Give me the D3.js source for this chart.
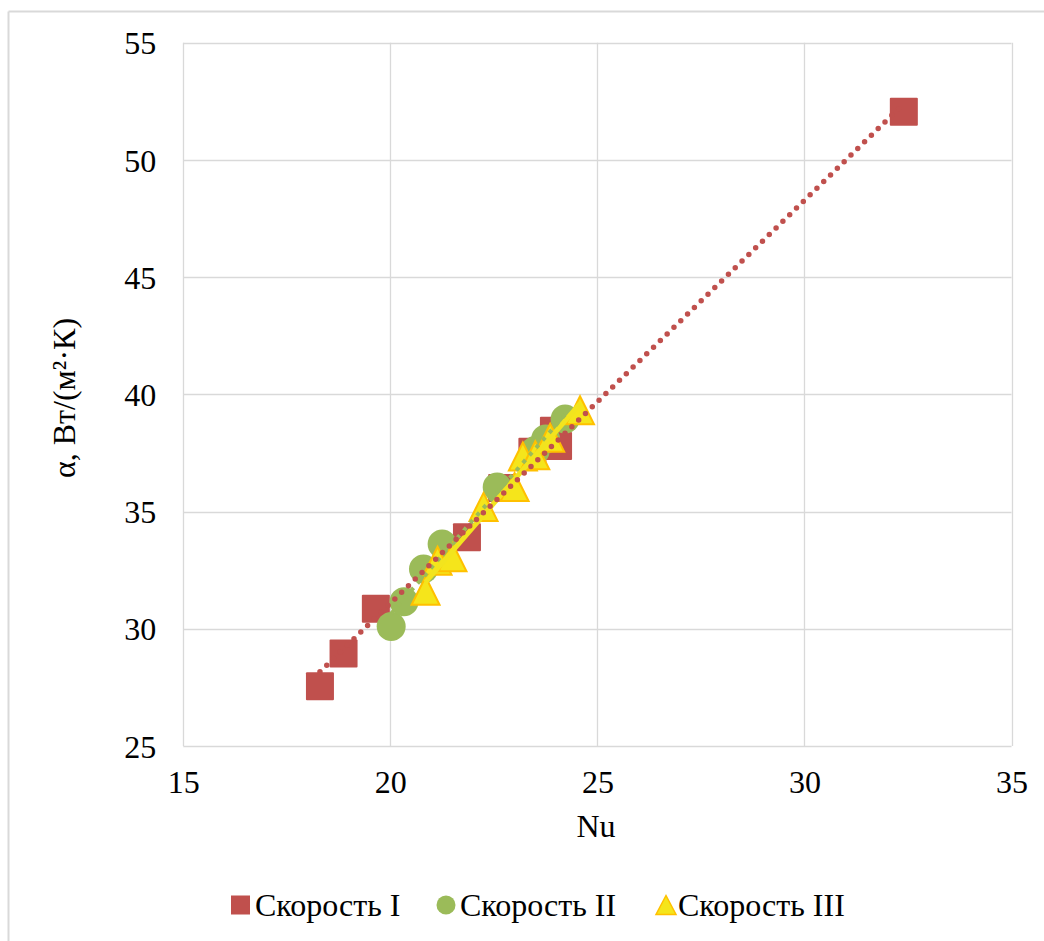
<!DOCTYPE html>
<html>
<head>
<meta charset="utf-8">
<script src="https://cdn.jsdelivr.net/npm/d3@7"></script>
<style>
  html, body { margin: 0; padding: 0; background: #fff; }
</style>
</head>
<body>
<svg id="chart" width="1044" height="941"></svg>
<script>
// ---- data ----
const seriesNames = ["Скорость I", "Скорость II", "Скорость III"];
const nuI     = [18.3, 18.87, 19.65, 21.85, 22.7, 23.43, 23.95, 24.05, 32.4];
const alphaI  = [27.55, 28.95, 30.85, 33.9, 36.0, 37.55, 38.45, 37.8, 52.05];
const nuII    = [20.02, 20.33, 20.8, 21.25, 22.58, 23.5, 23.75, 24.22];
const alphaII = [30.1, 31.15, 32.55, 33.62, 36.05, 37.6, 38.1, 38.95];
const nuIII    = [20.85, 21.14, 21.5, 22.25, 23.0, 23.2, 23.5, 23.86, 24.58];
const alphaIII = [31.62, 32.9, 33.05, 35.2, 36.05, 37.35, 37.4, 38.15, 39.32];
const xTicks = [15, 20, 25, 30, 35];
const yTicks = [25, 30, 35, 40, 45, 50, 55];
const xTitle = "Nu";
const yTitle = "α, Вт/(м²·К)";

// ---- layout ----
const FONT = "Liberation Serif";
const svg = d3.select("#chart");
const x = d3.scaleLinear().domain([15, 35]).range([183.3, 1011.5]);
const y = d3.scaleLinear().domain([25, 55]).range([746, 42.7]);
const grid = "#d9d9d9";
const red = "#C0504D", green = "#9BBB59", yellowFill = "#F5E51B", yellowStroke = "#FFC000";

// outer frame (top and left edges visible)
svg.append("line").attr("x1", 8.5).attr("x2", 1044).attr("y1", 11.5).attr("y2", 11.5).attr("stroke", grid).attr("stroke-width", 2);
svg.append("line").attr("x1", 8.5).attr("x2", 8.5).attr("y1", 11.5).attr("y2", 941).attr("stroke", grid).attr("stroke-width", 2);

// gridlines
svg.append("g").selectAll("line").data(xTicks).join("line")
  .attr("x1", d => Math.round(x(d)) + 0.5).attr("x2", d => Math.round(x(d)) + 0.5)
  .attr("y1", y(25)).attr("y2", y(55)).attr("stroke", grid).attr("stroke-width", 1.3);
svg.append("g").selectAll("line").data(yTicks).join("line")
  .attr("y1", d => Math.round(y(d)) + 0.5).attr("y2", d => Math.round(y(d)) + 0.5)
  .attr("x1", x(15)).attr("x2", x(35)).attr("stroke", grid).attr("stroke-width", 1.3);

// axes via d3 axis generators (labels only)
const xAxis = svg.append("g").attr("transform", `translate(0,${y(25)})`)
  .call(d3.axisBottom(x).tickValues(xTicks).tickSize(0).tickPadding(0));
xAxis.attr("font-family", FONT).attr("font-size", 32);
xAxis.select(".domain").remove();
xAxis.selectAll("text").attr("y", 36).attr("dy", "0.35em").attr("fill", "#000");

const yAxis = svg.append("g").attr("transform", `translate(${x(15)},0)`)
  .call(d3.axisLeft(y).tickValues(yTicks).tickSize(0).tickPadding(0));
yAxis.attr("font-family", FONT).attr("font-size", 32);
yAxis.select(".domain").remove();
yAxis.selectAll("text").attr("x", -27).attr("dy", "0.35em").attr("fill", "#000");

// axis titles
svg.append("text").attr("x", 596).attr("y", 837).attr("text-anchor", "middle")
  .attr("font-family", FONT).attr("font-size", 32).text(xTitle);
svg.append("text").attr("transform", "translate(75,398) rotate(-90)").attr("text-anchor", "middle")
  .attr("font-family", FONT).attr("font-size", 32).text(yTitle);

// helpers
const pts = (xs, ys) => xs.map((v, i) => [v, ys[i]]);
function regression(data) {
  const mx = d3.mean(data, d => d[0]), my = d3.mean(data, d => d[1]);
  let sxy = 0, sxx = 0;
  data.forEach(d => { sxy += (d[0] - mx) * (d[1] - my); sxx += (d[0] - mx) ** 2; });
  const b = sxy / sxx, a = my - b * mx;
  const x0 = d3.min(data, d => d[0]), x1 = d3.max(data, d => d[0]);
  return [[x0, a + b * x0], [x1, a + b * x1]];
}
const line = d3.line().x(d => x(d[0])).y(d => y(d[1]));

const dI = pts(nuI, alphaI), dII = pts(nuII, alphaII), dIII = pts(nuIII, alphaIII);

// markers
const sq = 28;
svg.append("g").selectAll("rect").data(dI).join("rect")
  .attr("x", d => x(d[0]) - sq / 2).attr("y", d => y(d[1]) - sq / 2)
  .attr("width", sq).attr("height", sq).attr("rx", 1).attr("fill", red);

svg.append("g").selectAll("circle").data(dII).join("circle")
  .attr("cx", d => x(d[0])).attr("cy", d => y(d[1])).attr("r", 14.5).attr("fill", green);

const tri = (cx, cy, w, h) => `M${cx},${cy - h / 2}L${cx + w / 2},${cy + h / 2}L${cx - w / 2},${cy + h / 2}Z`;
svg.append("g").selectAll("path").data(dIII).join("path")
  .attr("d", d => tri(x(d[0]), y(d[1]), 28, 28))
  .attr("fill", yellowFill).attr("stroke", yellowStroke).attr("stroke-width", 2).attr("stroke-linejoin", "miter");

// trendlines
svg.append("path").attr("d", line(regression(dIII))).attr("fill", "none")
  .attr("stroke", "#F2E41E").attr("stroke-width", 5);
svg.append("path").attr("d", line(regression(dII))).attr("fill", "none")
  .attr("stroke", green).attr("stroke-width", 4).attr("stroke-dasharray", "4,6");
svg.append("path").attr("d", line(regression(dI))).attr("fill", "none")
  .attr("stroke", red).attr("stroke-width", 5.5).attr("stroke-linecap", "round").attr("stroke-dasharray", "0,9.5");

// legend
const legend = svg.append("g");
const ly = 905;
const legendItems = [
  { name: seriesNames[0], mx: 240.5, tx: 255, type: "square" },
  { name: seriesNames[1], mx: 446, tx: 460, type: "circle" },
  { name: seriesNames[2], mx: 666, tx: 678, type: "triangle" }
];
legendItems.forEach(it => {
  if (it.type === "square") {
    legend.append("rect").attr("x", it.mx - 9.5).attr("y", ly - 9.5).attr("width", 19).attr("height", 19).attr("fill", red);
  } else if (it.type === "circle") {
    legend.append("circle").attr("cx", it.mx).attr("cy", ly).attr("r", 9.5).attr("fill", green);
  } else {
    legend.append("path").attr("d", tri(it.mx, ly, 20, 19)).attr("fill", yellowFill)
      .attr("stroke", yellowStroke).attr("stroke-width", 1.5);
  }
  legend.append("text").attr("x", it.tx).attr("y", ly).attr("dy", "0.35em")
    .attr("font-family", FONT).attr("font-size", 32).text(it.name);
});
</script>
</body>
</html>
